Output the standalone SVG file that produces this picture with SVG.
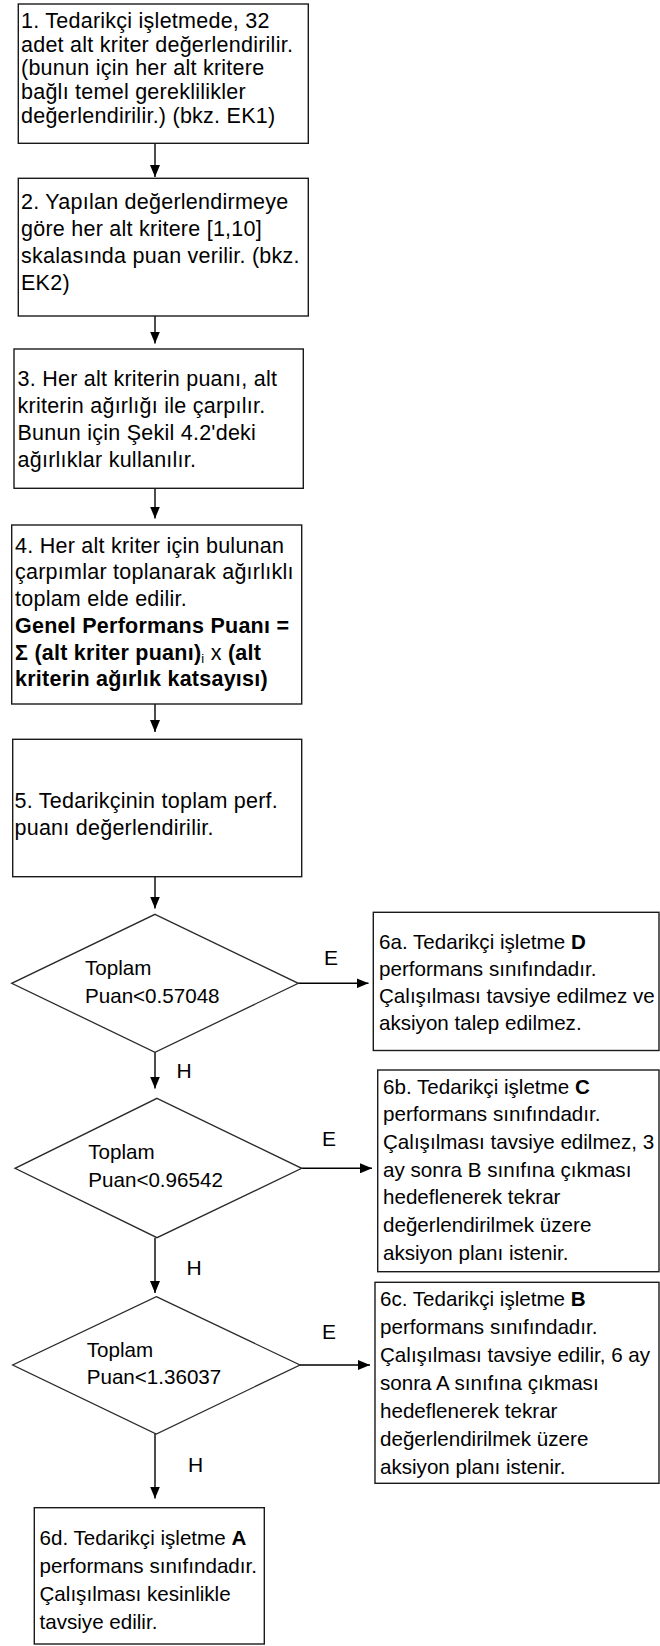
<svg xmlns="http://www.w3.org/2000/svg" width="660" height="1646" viewBox="0 0 660 1646">
  <style>
    .box{fill:#fff;stroke:#1a1a1a;stroke-width:1.4}
    .dia{fill:#fff;stroke:#2a2a2a;stroke-width:1.3}
    .t{font-family:"Liberation Sans",Arial,sans-serif;font-size:21.5px;letter-spacing:0.25px;fill:#000}
    .r{font-size:20.6px;letter-spacing:0}
    .b{font-weight:bold}
    .conn{stroke:#000;stroke-width:1.4;fill:none;marker-end:url(#ah)}
    .lbl{font-family:"Liberation Sans",Arial,sans-serif;font-size:21px;fill:#000;text-anchor:middle}
  </style>
  <defs>
    <marker id="ah" viewBox="0 0 12 10" refX="12" refY="5" markerWidth="12" markerHeight="10" markerUnits="userSpaceOnUse" orient="auto">
      <path d="M0,0 L12,5 L0,10 z" fill="#000"/>
    </marker>
  </defs>
  <rect width="660" height="1646" fill="#fff"/>

  <!-- connectors -->
  <g id="connectors">
    <line class="conn" x1="155" y1="143.3" x2="155" y2="177"/>
    <line class="conn" x1="155" y1="316" x2="155" y2="343.5"/>
    <line class="conn" x1="155" y1="488.3" x2="155" y2="518.5"/>
    <line class="conn" x1="155" y1="704" x2="155" y2="732"/>
    <line class="conn" x1="155" y1="876.7" x2="155" y2="908.5"/>
    <line class="conn" x1="155" y1="1052.3" x2="155" y2="1088.5"/>
    <line class="conn" x1="155" y1="1237.7" x2="155" y2="1293"/>
    <line class="conn" x1="155" y1="1434" x2="155" y2="1498.5"/>
    <line class="conn" x1="298.3" y1="983.3" x2="368.5" y2="983.3"/>
    <line class="conn" x1="301.7" y1="1168.3" x2="372" y2="1168.3"/>
    <line class="conn" x1="300" y1="1365" x2="370" y2="1365"/>
    <text class="lbl" x="331" y="965">E</text>
    <text class="lbl" x="329" y="1146">E</text>
    <text class="lbl" x="329" y="1338.5">E</text>
    <text class="lbl" x="184" y="1078">H</text>
    <text class="lbl" x="194" y="1275">H</text>
    <text class="lbl" x="195.5" y="1472">H</text>
  </g>

  <!-- step 1 -->
  <g id="n1">
    <rect class="box" x="18.3" y="4" width="290" height="139.3"/>
    <text class="t">
      <tspan x="21" y="28">1. Tedarikçi işletmede, 32</tspan>
      <tspan x="21" y="51.7">adet alt kriter değerlendirilir.</tspan>
      <tspan x="21" y="75.4">(bunun için her alt kritere</tspan>
      <tspan x="21" y="99.1">bağlı temel gereklilikler</tspan>
      <tspan x="21" y="122.8">değerlendirilir.) (bkz. EK1)</tspan>
    </text>
  </g>

  <!-- step 2 -->
  <g id="n2">
    <rect class="box" x="18.3" y="178.3" width="290" height="137.7"/>
    <text class="t">
      <tspan x="21" y="209">2. Yapılan değerlendirmeye</tspan>
      <tspan x="21" y="236">göre her alt kritere [1,10]</tspan>
      <tspan x="21" y="263">skalasında puan verilir. (bkz.</tspan>
      <tspan x="21" y="290">EK2)</tspan>
    </text>
  </g>

  <!-- step 3 -->
  <g id="n3">
    <rect class="box" x="14" y="349" width="289.3" height="139.3"/>
    <text class="t">
      <tspan x="17.5" y="386">3. Her alt kriterin puanı, alt</tspan>
      <tspan x="17.5" y="413">kriterin ağırlığı ile çarpılır.</tspan>
      <tspan x="17.5" y="440">Bunun için Şekil 4.2'deki</tspan>
      <tspan x="17.5" y="467">ağırlıklar kullanılır.</tspan>
    </text>
  </g>

  <!-- step 4 -->
  <g id="n4">
    <rect class="box" x="11.7" y="525" width="290" height="179"/>
    <text class="t">
      <tspan x="15" y="552.5">4. Her alt kriter için bulunan</tspan>
      <tspan x="15" y="579.3">çarpımlar toplanarak ağırlıklı</tspan>
      <tspan x="15" y="606">toplam elde edilir.</tspan>
      <tspan x="15" y="632.8" class="b">Genel Performans Puanı =</tspan>
      <tspan x="15" y="659.6" class="b">Σ (alt kriter puanı)</tspan><tspan font-size="13" dy="3">i</tspan><tspan dy="-3"> x </tspan><tspan class="b">(alt</tspan>
      <tspan x="15" y="686.4" class="b">kriterin ağırlık katsayısı)</tspan>
    </text>
  </g>

  <!-- step 5 -->
  <g id="n5">
    <rect class="box" x="12.7" y="739.3" width="289" height="137.4"/>
    <text class="t">
      <tspan x="14.5" y="808">5. Tedarikçinin toplam perf.</tspan>
      <tspan x="14.5" y="835">puanı değerlendirilir.</tspan>
    </text>
  </g>

  <!-- decisions -->
  <g id="d1">
    <polygon class="dia" points="155,914.3 298.3,983.3 155,1052.3 11.7,983.3"/>
    <text class="t r"><tspan x="85" y="975">Toplam</tspan><tspan x="85" y="1002.7">Puan&lt;0.57048</tspan></text>
  </g>
  <g id="d2">
    <polygon class="dia" points="157,1098.3 301.7,1168.3 157,1237.7 15,1168.3"/>
    <text class="t r"><tspan x="88.3" y="1159.3">Toplam</tspan><tspan x="88.3" y="1186.7">Puan&lt;0.96542</tspan></text>
  </g>
  <g id="d3">
    <polygon class="dia" points="156.3,1296.7 300,1365 156.3,1434 12.7,1365"/>
    <text class="t r"><tspan x="86.7" y="1356.7">Toplam</tspan><tspan x="86.7" y="1384">Puan&lt;1.36037</tspan></text>
  </g>

  <!-- outcomes -->
  <g id="n6a">
    <rect class="box" x="373.3" y="912.3" width="285.7" height="138.2"/>
    <text class="t r">
      <tspan x="379" y="948.5">6a. Tedarikçi işletme </tspan><tspan class="b">D</tspan>
      <tspan x="379" y="975.5">performans sınıfındadır.</tspan>
      <tspan x="379" y="1002.5">Çalışılması tavsiye edilmez ve</tspan>
      <tspan x="379" y="1029.5">aksiyon talep edilmez.</tspan>
    </text>
  </g>
  <g id="n6b">
    <rect class="box" x="377.7" y="1070" width="281.3" height="201.7"/>
    <text class="t r">
      <tspan x="383" y="1093.5">6b. Tedarikçi işletme </tspan><tspan class="b">C</tspan>
      <tspan x="383" y="1121.2">performans sınıfındadır.</tspan>
      <tspan x="383" y="1148.9">Çalışılması tavsiye edilmez, 3</tspan>
      <tspan x="383" y="1176.6">ay sonra B sınıfına çıkması</tspan>
      <tspan x="383" y="1204.3">hedeflenerek tekrar</tspan>
      <tspan x="383" y="1232">değerlendirilmek üzere</tspan>
      <tspan x="383" y="1259.7">aksiyon planı istenir.</tspan>
    </text>
  </g>
  <g id="n6c">
    <rect class="box" x="375" y="1282.3" width="284" height="201"/>
    <text class="t r">
      <tspan x="380" y="1306">6c. Tedarikçi işletme </tspan><tspan class="b">B</tspan>
      <tspan x="380" y="1334">performans sınıfındadır.</tspan>
      <tspan x="380" y="1362">Çalışılması tavsiye edilir, 6 ay</tspan>
      <tspan x="380" y="1390">sonra A sınıfına çıkması</tspan>
      <tspan x="380" y="1418">hedeflenerek tekrar</tspan>
      <tspan x="380" y="1446">değerlendirilmek üzere</tspan>
      <tspan x="380" y="1474">aksiyon planı istenir.</tspan>
    </text>
  </g>
  <g id="n6d">
    <rect class="box" x="34.3" y="1507.7" width="230" height="136.3"/>
    <text class="t r">
      <tspan x="39.5" y="1545">6d. Tedarikçi işletme </tspan><tspan class="b">A</tspan>
      <tspan x="39.5" y="1573">performans sınıfındadır.</tspan>
      <tspan x="39.5" y="1601">Çalışılması kesinlikle</tspan>
      <tspan x="39.5" y="1629">tavsiye edilir.</tspan>
    </text>
  </g>
</svg>
